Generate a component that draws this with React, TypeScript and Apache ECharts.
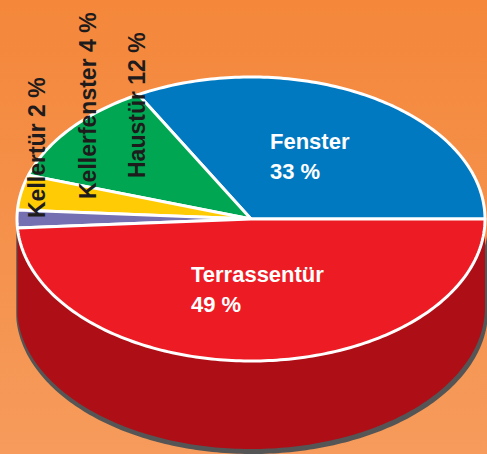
import React, { useEffect, useRef } from "react";
import * as echarts from "echarts";

const categories = ["Fenster", "Haustür", "Kellerfenster", "Kellertür", "Terrassentür"];
const shares = [33, 12, 4, 2, 49];
const topColors = ["#0079C1", "#00A651", "#FFCB05", "#7470B2", "#ED1C24"];
const sideColors = ["#005A90", "#007A3C", "#C79E00", "#55528A", "#AE0E16"];
const percentTexts = ["33 %", "12 %", "4 %", "2 %", "49 %"];

const CX = 251;
const CY = 219;
const RX = 234;
const RY = 142;
const DEPTH = 88;

const cumulative: number[][] = (() => {
  let acc = 0;
  return shares.map((v) => {
    const s = acc;
    acc += v;
    return [s, acc];
  });
})();

function pt(deg: number, rx: number, ry: number, dx = 0, dy = 0): number[] {
  const r = (deg * Math.PI) / 180;
  return [CX + dx + rx * Math.cos(r), CY + dy - ry * Math.sin(r)];
}

function arc(a: number, b: number, rx: number, ry: number, dx = 0, dy = 0): number[][] {
  const pts: number[][] = [];
  const n = Math.max(2, Math.ceil(Math.abs(b - a)));
  for (let i = 0; i <= n; i++) pts.push(pt(a + ((b - a) * i) / n, rx, ry, dx, dy));
  return pts;
}

export default function App() {
  const ref = useRef<HTMLDivElement>(null);
  useEffect(() => {
    if (!ref.current) return;
    const chart = echarts.init(ref.current, null, { renderer: "svg" });
    const data = cumulative.map((c, i) => ({ name: categories[i], value: c }));

    const sideRender = (params: any, api: any) => {
      const i = params.dataIndex;
      const a0 = api.value(0) * 3.6;
      const b0 = api.value(1) * 3.6;
      const a = Math.max(a0, 180);
      const b = Math.min(b0, 360);
      if (a >= b) return { type: "group", children: [] };
      const top = arc(a, b, RX, RY);
      const bottom = arc(b, a, RX, RY, 0, DEPTH);
      const shTop = arc(a, b, RX + 2, RY, 1, 4);
      const shBottom = arc(b, a, RX + 2, RY + 1, 1, DEPTH + 4);
      return {
        type: "group",
        children: [
          {
            type: "polygon",
            shape: { points: shTop.concat(shBottom) },
            style: { fill: "#555555" },
          },
          {
            type: "polygon",
            shape: { points: top.concat(bottom) },
            style: { fill: sideColors[i] },
          },
        ],
      };
    };

    const topRender = (params: any, api: any) => {
      const i = params.dataIndex;
      const a = api.value(0) * 3.6;
      const b = api.value(1) * 3.6;
      const pts = [[CX, CY]].concat(arc(a, b, RX, RY));
      return {
        type: "polygon",
        shape: { points: pts },
        style: { fill: topColors[i], stroke: "#FFFFFF", lineWidth: 3, lineJoin: "round" },
      };
    };

    const boldFont = "'Liberation Sans', Arial, sans-serif";
    const rotated = (text: string, x: number, y: number) => ({
      type: "text",
      x,
      y,
      rotation: Math.PI / 2,
      style: {
        text,
        fill: "#1E1B1C",
        fontSize: 23,
        fontWeight: "bold",
        fontFamily: boldFont,
        textAlign: "left",
        textVerticalAlign: "middle",
      },
      z: 10,
    });
    const white = (text: string, x: number, y: number) => ({
      type: "text",
      x,
      y,
      style: {
        text,
        fill: "#FFFFFF",
        fontSize: 22,
        fontWeight: "bold",
        fontFamily: boldFont,
        lineHeight: 30,
        textAlign: "left",
        textVerticalAlign: "top",
      },
      z: 10,
    });

    chart.setOption({
      animation: false,
      backgroundColor: new echarts.graphic.LinearGradient(0, 0, 0, 1, [
        { offset: 0, color: "#F4873A" },
        { offset: 1, color: "#F69B5C" },
      ]),
      series: [
        {
          type: "custom",
          coordinateSystem: "none",
          renderItem: sideRender,
          data,
          silent: true,
        },
        {
          type: "custom",
          coordinateSystem: "none",
          renderItem: topRender,
          data,
          silent: true,
        },
      ],
      graphic: [
        white(`${categories[0]}\n${percentTexts[0]}`, 270, 126),
        white(`${categories[4]}\n${percentTexts[4]}`, 191, 259),
        rotated(`${categories[1]} ${percentTexts[1]}`, 137, 178),
        rotated(`${categories[2]} ${percentTexts[2]}`, 88, 199),
        rotated(`${categories[3]} ${percentTexts[3]}`, 37, 218),
      ],
    });
    return () => chart.dispose();
  }, []);
  return (
    <div
      ref={ref}
      style={{ position: "fixed", left: 0, top: 0, width: 487, height: 454 }}
    />
  );
}
